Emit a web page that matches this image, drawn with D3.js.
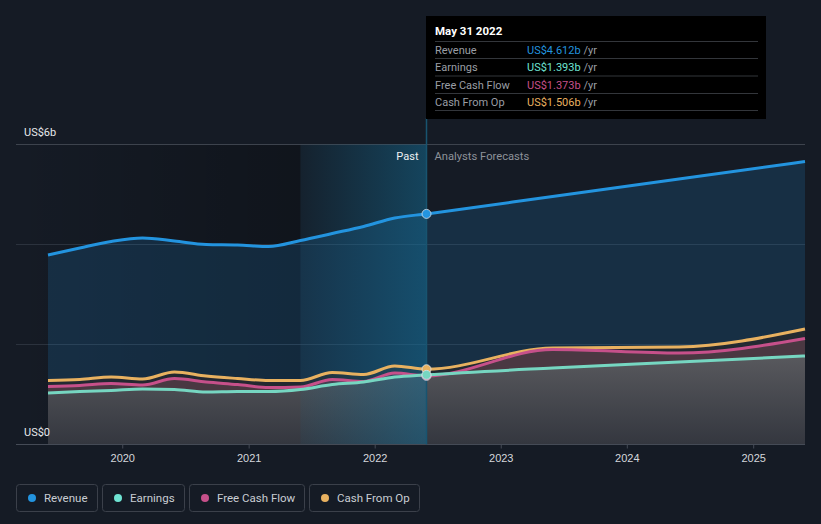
<!DOCTYPE html>
<html>
<head>
<meta charset="utf-8">
<script src="https://cdn.jsdelivr.net/npm/d3@7/dist/d3.min.js"></script>
<style>
  html, body { margin: 0; padding: 0; background: #151b25; }
  svg { display: block; font-family: Roboto, "Noto Sans", sans-serif; }
</style>
</head>
<body>
<div id="chart"></div>
<script>
// values in US$ billions, trailing twelve months
var pastDates = ["2019-05-31","2019-08-31","2019-11-30","2020-02-29","2020-05-31","2020-08-31","2020-11-30",
                 "2021-02-28","2021-05-31","2021-08-31","2021-11-30","2022-02-28","2022-05-31"];
var revenuePast  = [3.79, 3.93, 4.06, 4.13, 4.07, 4.00, 3.99, 3.96, 4.08, 4.22, 4.36, 4.53, 4.612];
var earningsPast = [1.03, 1.06, 1.08, 1.11, 1.10, 1.05, 1.06, 1.06, 1.10, 1.20, 1.25, 1.35, 1.393];
var fcfPast      = [1.16, 1.18, 1.22, 1.19, 1.32, 1.25, 1.20, 1.14, 1.15, 1.30, 1.26, 1.43, 1.373];
var cfoPast      = [1.28, 1.30, 1.35, 1.31, 1.45, 1.37, 1.32, 1.28, 1.28, 1.44, 1.40, 1.57, 1.506];

// analyst forecasts (fiscal years ending May)
var forecastDates = ["2023-05-31","2024-05-31","2025-05-31"];
var revenueForecast  = [4.96, 5.31, 5.66];
var earningsForecast = [1.53, 1.65, 1.77];
var fcfForecast      = [1.90, 1.83, 2.12];
var cfoForecast      = [1.93, 1.95, 2.31];

var yearTicks = ["2020","2021","2022","2023","2024","2025"];
var seriesNames = ["Revenue","Earnings","Free Cash Flow","Cash From Op"];
var seriesColors = ["#2394df","#76d6c1","#c6508a","#e8b160"];
var legendColors = ["#2394df","#6fe3d2","#c6508a","#e8b160"];
var tipValues = ["US$4.612b","US$1.393b","US$1.373b","US$1.506b"];

var parse = d3.timeParse("%Y-%m-%d");
var W = 821, H = 524;

var svg = d3.select("#chart").append("svg").attr("width", W).attr("height", H);

var x = d3.scaleTime()
    .domain([parse("2019-05-31"), parse("2025-05-31")])
    .range([48, 805]);
var y = d3.scaleLinear().domain([0, 6]).range([444.5, 144.5]);

// build rows: past + forecast (now point shared)
var dates = pastDates.concat(forecastDates).map(parse);
var rev = revenuePast.concat(revenueForecast);
var ear = earningsPast.concat(earningsForecast);
var fcf = fcfPast.concat(fcfForecast);
var cfo = cfoPast.concat(cfoForecast);
var rows = dates.map(function (d, i) {
    return { date: d, rev: rev[i], ear: ear[i], fcf: fcf[i], cfo: cfo[i] };
});

var nowDate = parse("2022-05-31");
var pastStart = parse("2021-05-31");

var defs = svg.append("defs");
var g1 = defs.append("linearGradient").attr("id", "darkPast").attr("x1", 0).attr("x2", 1).attr("y1", 0).attr("y2", 0);
g1.append("stop").attr("offset", "0%").attr("stop-color", "#000").attr("stop-opacity", 0);
g1.append("stop").attr("offset", "100%").attr("stop-color", "#000").attr("stop-opacity", 0.25);

var g2 = defs.append("linearGradient").attr("id", "hilite").attr("x1", 0).attr("x2", 1).attr("y1", 0).attr("y2", 0);
g2.append("stop").attr("offset", "0%").attr("stop-color", "#146e96").attr("stop-opacity", 0.08);
g2.append("stop").attr("offset", "100%").attr("stop-color", "#146e96").attr("stop-opacity", 0.5);

var g3 = defs.append("linearGradient").attr("id", "greyArea").attr("gradientUnits", "userSpaceOnUse")
    .attr("x1", 0).attr("x2", 0).attr("y1", 340).attr("y2", 444);
g3.append("stop").attr("offset", "0%").attr("stop-color", "#5f5f63");
g3.append("stop").attr("offset", "100%").attr("stop-color", "#34373f");

// darker past background
svg.append("rect").attr("x", 16).attr("y", 144.5).attr("width", x(pastStart) - 16).attr("height", 300)
    .attr("fill", "url(#darkPast)");

// gridlines
svg.selectAll(".grid").data([2, 4, 6]).enter().append("line")
    .attr("x1", 16).attr("x2", 805).attr("y1", function (d) { return y(d); }).attr("y2", function (d) { return y(d); })
    .attr("stroke", function (d) { return d == 6 ? "#3d434d" : "#2b323d"; }).attr("stroke-width", 1);

var curve = d3.curveMonotoneX;

// revenue area
svg.append("path").datum(rows)
    .attr("fill", "#2394df").attr("fill-opacity", 0.17)
    .attr("d", d3.area().curve(curve).x(function (d) { return x(d.date); }).y0(y(0)).y1(function (d) { return y(d.rev); }));

// band between earnings and fcf, and fcf to cfo
svg.append("path").datum(rows)
    .attr("fill", "#26282e").attr("fill-opacity", 0.85)
    .attr("d", d3.area().curve(curve).x(function (d) { return x(d.date); })
        .y0(function (d) { return y(d.fcf); }).y1(function (d) { return y(d.cfo); }));
svg.append("path").datum(rows)
    .attr("fill", "#4a3842")
    .attr("d", d3.area().curve(curve).x(function (d) { return x(d.date); })
        .y0(function (d) { return y(d.ear); }).y1(function (d) { return y(d.fcf); }));

// earnings area
svg.append("path").datum(rows)
    .attr("fill", "url(#greyArea)")
    .attr("d", d3.area().curve(curve).x(function (d) { return x(d.date); }).y0(y(0)).y1(function (d) { return y(d.ear); }));

// highlight of last 12 months
svg.append("rect").attr("x", x(pastStart)).attr("y", 144.5)
    .attr("width", x(nowDate) - x(pastStart)).attr("height", 300)
    .attr("fill", "url(#hilite)");

// lines
var keys = ["rev", "ear", "fcf", "cfo"];
[3, 2, 1, 0].forEach(function (i) {
    var k = keys[i];
    svg.append("path").datum(rows)
        .attr("fill", "none").attr("stroke", seriesColors[i]).attr("stroke-width", 3)
        .attr("d", d3.line().curve(curve).x(function (d) { return x(d.date); }).y(function (d) { return y(d[k]); }));
});

// x axis
var xAxis = svg.append("g").attr("transform", "translate(0,444.5)")
    .call(d3.axisBottom(x).tickValues(yearTicks.map(function (t) { return parse(t + "-01-01"); }))
        .tickFormat(d3.timeFormat("%Y")).tickSize(4).tickPadding(6));
xAxis.select(".domain").remove();
xAxis.selectAll(".tick line").attr("stroke", "#444a55");
xAxis.selectAll(".tick text").attr("fill", "#d4d7dc").attr("font-size", 11);
svg.append("line").attr("x1", 16).attr("x2", 805).attr("y1", 444.5).attr("y2", 444.5).attr("stroke", "#454b56");

// now line
svg.append("line").attr("x1", x(nowDate)).attr("x2", x(nowDate)).attr("y1", 118).attr("y2", 444.5)
    .attr("stroke", "#185470").attr("stroke-width", 1.5);

// markers at now
var nowRow = rows[pastDates.length - 1];
[3, 2, 1, 0].forEach(function (i) {
    svg.append("circle").attr("cx", x(nowDate)).attr("cy", y(nowRow[keys[i]])).attr("r", 4.5)
        .attr("fill", seriesColors[i]).attr("stroke", "#d8e0ea").attr("stroke-width", 1).attr("stroke-opacity", 0.8);
});

// y labels
svg.append("text").attr("x", 24).attr("y", 136).attr("fill", "#e6e8eb").attr("font-size", 11).text("US$6b");
svg.append("text").attr("x", 24).attr("y", 436).attr("fill", "#e6e8eb").attr("font-size", 11).text("US$0");

svg.append("text").attr("x", x(nowDate) - 8).attr("y", 160).attr("text-anchor", "end")
    .attr("fill", "#eef0f2").attr("font-size", 11).text("Past");
svg.append("text").attr("x", x(nowDate) + 8).attr("y", 160)
    .attr("fill", "#8d9299").attr("font-size", 11.2).text("Analysts Forecasts");

// tooltip
var tip = svg.append("g");
tip.append("rect").attr("x", 426).attr("y", 16).attr("width", 340).attr("height", 103).attr("fill", "#000");
tip.append("text").attr("x", 435).attr("y", 35).attr("fill", "#fff").attr("font-size", 11.5).attr("font-weight", "bold").text("May 31 2022");
var sepY = [41.5, 58.5, 76, 93.5, 110.5];
sepY.forEach(function (s) {
    tip.append("line").attr("x1", 435).attr("x2", 758).attr("y1", s).attr("y2", s).attr("stroke", "#33363b");
});
seriesNames.forEach(function (n, i) {
    var ty = (sepY[i] + sepY[i + 1]) / 2 + 4;
    tip.append("text").attr("x", 435).attr("y", ty).attr("fill", "#9a9ea5").attr("font-size", 11).text(n);
    var t = tip.append("text").attr("x", 527).attr("y", ty).attr("font-size", 11);
    t.append("tspan").attr("fill", legendColors[i]).text(tipValues[i]);
    t.append("tspan").attr("fill", "#9a9ea5").text(" /yr");
});

// legend
var legendX = [16.5, 102.5, 189.5, 309.5];
var legendW = [81, 82, 115, 110];
seriesNames.forEach(function (n, i) {
    var lg = svg.append("g").attr("transform", "translate(" + legendX[i] + ",484.5)");
    lg.append("rect").attr("width", legendW[i]).attr("height", 27).attr("rx", 3)
        .attr("fill", "none").attr("stroke", "#3b404a");
    lg.append("circle").attr("cx", 15.5).attr("cy", 13.5).attr("r", 4).attr("fill", legendColors[i]);
    lg.append("text").attr("x", 27.5).attr("y", 17.5).attr("fill", "#c9cdd3").attr("font-size", 11.5).text(n);
});
</script>
</body>
</html>
